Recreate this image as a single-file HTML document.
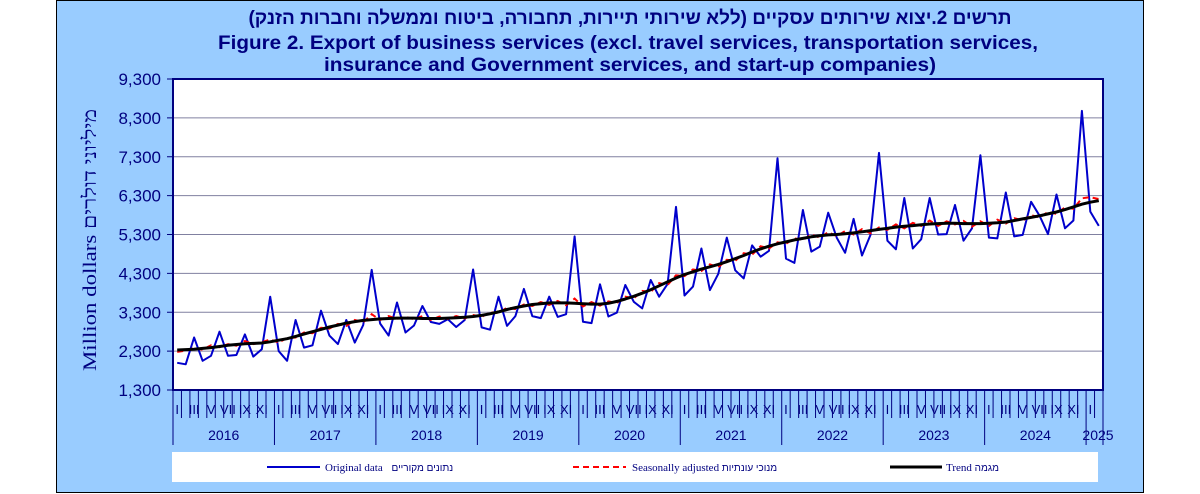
<!DOCTYPE html>
<html><head><meta charset="utf-8"><style>
html,body{margin:0;padding:0;background:#fff;width:1200px;height:494px;overflow:hidden}
svg{display:block}
</style></head><body>
<svg id="chart" width="1200" height="494" xmlns="http://www.w3.org/2000/svg" font-family="Liberation Sans, Arial, sans-serif">
<rect x="56.5" y="0.5" width="1087" height="492" fill="#99ccff" stroke="#000" stroke-width="1"/>
<g fill="#000080" font-weight="bold" text-anchor="middle">
<text x="630" y="24" font-size="19" font-family="Liberation Sans, Noto Sans CJK JP, sans-serif" direction="rtl">תרשים 2.יצוא שירותים עסקיים (ללא שירותי תיירות, תחבורה, ביטוח וממשלה וחברות הזנק)</text>
<text x="628" y="49" font-size="19" textLength="820" lengthAdjust="spacingAndGlyphs">Figure 2. Export of business services (excl. travel services, transportation services,</text>
<text x="630" y="71" font-size="19" textLength="612" lengthAdjust="spacingAndGlyphs">insurance and Government services, and start-up companies)</text>
</g>
<rect x="173" y="79" width="930" height="311" fill="#fff"/>
<g id="grid"></g>
<g id="xaxis"></g>
<g id="series"></g>
<rect x="173" y="79" width="930" height="311" fill="none" stroke="#000080" stroke-width="2"/>
<text transform="translate(96,240) rotate(-90)" text-anchor="middle" font-size="19" fill="#000080" font-family="Liberation Serif, serif" textLength="262" lengthAdjust="spacingAndGlyphs">Million dollars  מיליוני דולרים</text>
<g>
<rect x="172" y="452" width="926" height="30" fill="#fff"/>
<line x1="267" y1="467" x2="320" y2="467" stroke="#0000cc" stroke-width="2"/>
<text x="325" y="471" font-size="11" fill="#000080" font-family="Liberation Serif, serif">Original data <tspan dx="6" font-family="Liberation Sans, sans-serif" font-size="10">נתונים מקוריים</tspan></text>
<line x1="573" y1="467" x2="626" y2="467" stroke="#ff0000" stroke-width="2" stroke-dasharray="6,4"/>
<text x="632" y="471" font-size="11" fill="#000080" font-family="Liberation Serif, serif">Seasonally adjusted <tspan font-family="Liberation Sans, sans-serif" font-size="10">מנוכי עונתיות</tspan></text>
<line x1="890" y1="467" x2="942" y2="467" stroke="#000" stroke-width="3"/>
<text x="946" y="471" font-size="11" fill="#000080" font-family="Liberation Serif, serif">Trend <tspan font-family="Liberation Sans, sans-serif" font-size="10">מגמה</tspan></text>
</g>
</svg>
<script>
const years = ['2016','2017','2018','2019','2020','2021','2022','2023','2024','2025'];
const monthLabels = ['I','','III','','V','','VII','','IX','','XI',''];
const yTicks = [1300,2300,3300,4300,5300,6300,7300,8300,9300];
const original = [
2000,1960,2650,2050,2180,2800,2180,2200,2730,2160,2350,3700,
2300,2050,3100,2390,2450,3340,2700,2480,3100,2520,2970,4390,
3010,2700,3550,2780,2960,3460,3050,3000,3120,2920,3100,4400,
2910,2850,3700,2950,3200,3900,3200,3150,3700,3180,3250,5250,
3055,3020,4020,3190,3290,4000,3570,3400,4130,3700,4030,6010,
3730,3960,4940,3870,4290,5220,4380,4170,5020,4730,4880,7260,
4680,4570,5930,4860,4990,5860,5220,4830,5700,4760,5290,7400,
5140,4920,6240,4940,5180,6240,5300,5310,6060,5140,5460,7340,
5220,5200,6380,5250,5290,6140,5780,5310,6330,5460,5660,8480,
5890,5520];
const trend = [
2330,2340,2350,2370,2390,2420,2450,2470,2490,2500,2510,2540,
2580,2620,2680,2740,2800,2860,2920,2970,3020,3060,3090,3110,
3130,3140,3150,3150,3150,3140,3140,3140,3150,3160,3170,3190,
3220,3260,3310,3370,3420,3460,3500,3520,3540,3540,3540,3530,
3520,3510,3510,3530,3580,3640,3710,3790,3880,3980,4080,4180,
4270,4340,4410,4470,4530,4600,4680,4760,4850,4930,5000,5060,
5110,5160,5200,5240,5270,5290,5300,5320,5340,5370,5400,5430,
5460,5490,5510,5530,5550,5570,5580,5590,5590,5580,5580,5580,
5590,5600,5620,5660,5700,5740,5780,5830,5880,5940,6010,6080,
6130,6170];
const seasonal = [
2280,2310,2380,2340,2450,2400,2480,2440,2560,2480,2530,2600,
2520,2640,2650,2780,2760,2900,2880,3000,2950,3100,3040,3250,
3100,3200,3130,3180,3120,3200,3100,3190,3130,3200,3140,3230,
3180,3300,3280,3420,3380,3500,3460,3560,3490,3590,3480,3650,
3450,3560,3470,3580,3540,3700,3660,3850,3820,4050,4000,4250,
4230,4400,4360,4530,4460,4650,4620,4820,4780,5000,4940,5100,
5060,5200,5160,5300,5220,5360,5260,5390,5300,5440,5330,5480,
5420,5560,5460,5600,5520,5660,5520,5640,5560,5650,5500,5640,
5520,5680,5580,5720,5660,5800,5740,5880,5830,6000,5960,6230,
6260,6210];
const X0=173, X1=1103, Y0=390, Y1=79, NM=110;
const mw=(X1-X0)/NM;
function xs(i){return X0+(i+0.5)*mw;}
function ys(v){return Y0-(v-1300)/(9300-1300)*(Y0-Y1);}
const NS='http://www.w3.org/2000/svg';
function mk(tag,attrs,parent){const e=document.createElementNS(NS,tag);for(const k in attrs)e.setAttribute(k,attrs[k]);parent.appendChild(e);return e;}
const grid=document.getElementById('grid');
yTicks.forEach(v=>{
  const y=ys(v);
  if(v>1300&&v<9300){const l=mk('line',{x1:X0,x2:X1,y1:y,y2:y,stroke:'#8080a0','stroke-width':1},grid);
  
  }
  const t=mk('line',{x1:X0-6,x2:X0,y1:y,y2:y,stroke:'#000080','stroke-width':1},grid);
  
  
  const tx=mk('text',{x:X0-12,y:y+6,'text-anchor':'end','font-size':17,fill:'#000080'},grid);
  tx.textContent=v.toLocaleString('en-US');
  
  
});
const xa=document.getElementById('xaxis');
for(let i=0;i<=NM;i++){
  const x=X0+i*mw;
  const isYear=i%12===0||i===NM;
  const l=mk('line',{x1:x,x2:x,y1:Y0,y2:isYear?445:418,stroke:'#000080','stroke-width':1},xa);
  
  
  if(i<NM&&monthLabels[i%12]){
    const t=mk('text',{x:xs(i),y:414,'text-anchor':'middle','font-size':13,fill:'#000080'},xa);
    t.textContent=monthLabels[i%12];
    
    
  }
}
years.forEach((yr,k)=>{
  const start=k*12, end=Math.min(NM,start+12);
  const cx=k===years.length-1?1098:X0+(start+end)/2*mw;
  const t=mk('text',{x:cx,y:440,'text-anchor':'middle','font-size':14,fill:'#000080'},xa);
  t.textContent=yr;
  
  
});
const sg=document.getElementById('series');
function pts(arr){return arr.map((v,i)=>xs(i).toFixed(1)+','+ys(v).toFixed(1)).join(' ');}
const p1=mk('polyline',{points:pts(original),fill:'none',stroke:'#0000cc','stroke-width':2,'stroke-linejoin':'round'},sg);


const p2=mk('polyline',{points:pts(seasonal),fill:'none',stroke:'#ff0000','stroke-width':2,'stroke-dasharray':'6,4'},sg);


const p3=mk('polyline',{points:pts(trend),fill:'none',stroke:'#000','stroke-width':3,'stroke-linejoin':'round'},sg);


</script>
</body></html>
